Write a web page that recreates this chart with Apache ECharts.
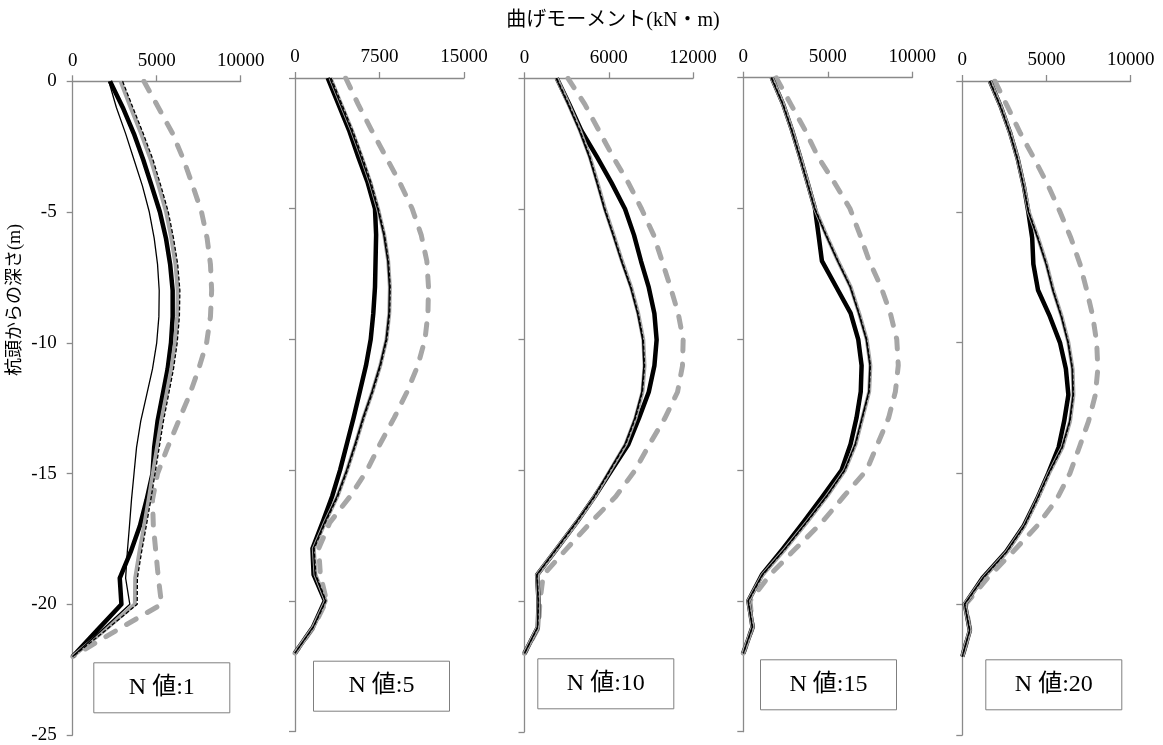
<!DOCTYPE html>
<html><head><meta charset="utf-8">
<script src="https://cdn.jsdelivr.net/npm/echarts@6/dist/echarts.min.js"></script>
<style>html,body{margin:0;padding:0;background:#fff}#c{width:1163px;height:745px}</style>
</head><body><div id="c"></div>
<script>
// depth (m) for every data point
const depth = [0,-1,-2,-3,-4,-5,-6,-7,-8,-9,-10,-11,-12,-13,-14,-15,-16,-17,-18,-19,-20,-21,-22];
const yTicks = [0,-5,-10,-15,-20,-25];
const panelLabels = ['N 値:1','N 値:5','N 値:10','N 値:15','N 値:20'];
const xMax = [10000,15000,12000,10000,10000];
const xStep = [5000,7500,6000,5000,5000];
const xTitle = '曲げモーメント(kN・m)';
const yTitle = '杭頭からの深さ(m)';

// N=1
const n1Thick = [2220,2980,3640,4200,4700,5190,5550,5800,5950,5950,5850,5650,5350,5050,4850,4750,4400,4000,3450,2800,2900,1450,0];
const n1Thin  = [2150,2600,3150,3650,4150,4560,4850,5050,5150,5130,5000,4750,4400,4050,3800,3650,3500,3380,3250,3150,3400,1700,0];
const n1Gray  = [2850,3450,4070,4650,5120,5560,5870,6120,6250,6220,6090,5870,5570,5270,5020,4770,4520,4250,3970,3720,3700,1880,0];
const n1Dot   = [2970,3580,4200,4780,5250,5690,6000,6250,6380,6350,6220,6000,5700,5400,5150,4900,4650,4380,4100,3850,3840,1950,0];
const n1Dash  = [4240,5100,5950,6600,7150,7670,8000,8200,8270,8200,7970,7500,6950,6300,5650,5050,4750,4800,4950,5100,5290,2600,0];
// N=5
const n5Thick = [2900,3850,4800,5600,6450,7100,7200,7150,7100,6950,6720,6300,5750,5200,4600,4000,3300,2450,1550,1650,2650,1600,0];
const n5Thin  = [3100,4050,5000,5850,6650,7330,7880,8230,8380,8330,8080,7530,6830,6030,5330,4580,3730,2630,1630,1780,2700,1620,0];
const n5Gray  = [3150,4100,5050,5900,6700,7370,7920,8270,8420,8370,8120,7570,6870,6070,5370,4620,3770,2670,1670,1820,2730,1640,0];
const n5Dot   = [3200,4150,5100,5950,6750,7400,7950,8300,8450,8400,8150,7600,6900,6100,5400,4650,3800,2700,1700,1850,2750,1650,0];
const n5Dash  = [4500,5600,6800,8050,9300,10400,11200,11700,11850,11800,11540,10900,9950,8800,7550,6400,4900,3100,2100,2250,2800,1650,0];
// N=10
const n10Thick = [2300,3200,4050,5150,6200,7160,7800,8300,8850,9250,9410,9250,8850,8150,7400,6200,5000,3700,2300,900,1000,950,0];
const n10Thin  = [2250,3100,3900,4600,5150,5680,6300,6900,7550,8050,8410,8500,8350,7850,7150,6050,4950,3650,2250,870,970,920,0];
const n10Gray  = [2300,3150,3950,4650,5200,5730,6350,6950,7600,8100,8460,8550,8400,7900,7200,6100,5000,3700,2300,900,1000,950,0];
const n10Dot   = [2300,3150,3950,4650,5200,5730,6350,6950,7600,8100,8460,8550,8400,7900,7200,6100,5000,3700,2300,900,1000,950,0];
const n10Dash  = [3100,4300,5300,6300,7400,8340,9200,9800,10400,10950,11300,11250,10900,10000,8900,7870,6500,4700,3000,1340,1100,1000,0];
// N=15
const n15Thick = [1680,2350,2880,3350,3800,4240,4450,4650,5500,6350,6800,7000,6950,6700,6350,5820,4700,3550,2350,1100,300,550,0];
const n15Thin  = [1650,2320,2850,3320,3770,4210,4870,5570,6320,6820,7270,7490,7420,7020,6620,5990,4920,3720,2470,1120,280,530,0];
const n15Gray  = [1680,2350,2880,3350,3800,4240,4900,5600,6350,6850,7300,7520,7450,7050,6650,6020,4950,3750,2500,1150,300,550,0];
const n15Dot   = [1680,2350,2880,3350,3800,4240,4900,5600,6350,6850,7300,7520,7450,7050,6650,6020,4950,3750,2500,1150,300,550,0];
const n15Dash  = [1950,2800,3650,4400,5380,6310,6900,7450,8150,8700,9080,9170,9000,8600,7950,7300,5950,4650,3100,1580,400,550,0];
// N=20
const n20Thick = [1640,2300,2850,3300,3650,3920,4150,4220,4500,5200,5800,6150,6300,6050,5720,5100,4420,3650,2600,1200,150,450,0];
const n20Thin  = [1610,2270,2820,3270,3620,3920,4470,4970,5370,5870,6270,6520,6570,6370,5920,5120,4420,3670,2620,1220,130,430,0];
const n20Gray  = [1640,2300,2850,3300,3650,3950,4500,5000,5400,5900,6300,6550,6600,6400,5950,5150,4450,3700,2650,1250,150,450,0];
const n20Dot   = [1640,2300,2850,3300,3650,3950,4500,5000,5400,5900,6300,6550,6600,6400,5950,5150,4450,3700,2650,1250,150,450,0];
const n20Dash  = [1940,2700,3450,4300,5100,5800,6450,6990,7390,7750,7980,8050,7900,7500,6950,6390,5600,4450,3000,1500,200,450,0];

// drawing order: dashed gray, thick black, gray solid, thin black, dotted black
const panels = [
  [n1Dash,n1Thick,n1Gray,n1Thin,n1Dot],
  [n5Dash,n5Thick,n5Gray,n5Thin,n5Dot],
  [n10Dash,n10Thick,n10Gray,n10Thin,n10Dot],
  [n15Dash,n15Thick,n15Gray,n15Thin,n15Dot],
  [n20Dash,n20Thick,n20Gray,n20Thin,n20Dot]
];

// ---- presentation ----
const FONT = '"Liberation Serif","Noto Sans CJK JP",serif';
const AX = '#8a8a8a';
const gridBox = [
  {left:72.7, top:81.3, width:168, height:653.7},
  {left:295, top:78, width:169, height:653.5},
  {left:524.5, top:78.3, width:168.5, height:653.5},
  {left:743.3, top:77.7, width:169, height:654},
  {left:962.3, top:81, width:168.4, height:654}
];
const boxPos = [
  {x:93.3, y:662.3}, {x:313, y:660.7}, {x:537.3, y:658.3}, {x:760, y:659.3}, {x:985.3, y:659.3}
];
const lineStyles = [
  {color:'#a6a6a6', width:5, type:[11,13], cap:'round', join:'round'},
  {color:'#000', width:4.5, join:'round'},
  {color:'#a6a6a6', width:4, join:'round'},
  {color:'#000', width:1.3, join:'round'},
  {color:'#000', width:1.3, type:[4,2]}
];

const grid=[], xAxis=[], yAxis=[], series=[], graphic=[];
panels.forEach((arrs,i)=>{
  grid.push(Object.assign({containLabel:false}, gridBox[i]));
  xAxis.push({type:'value', gridIndex:i, position:'top', min:0, max:xMax[i], interval:xStep[i],
    axisLine:{show:true, onZero:false, lineStyle:{color:AX, width:1.3}},
    axisTick:{show:true, inside:false, length:6, lineStyle:{color:AX, width:1.3}},
    axisLabel:{show:true, margin:11, fontFamily:FONT, fontSize:19, color:'#000', formatter:v=>String(v)},
    splitLine:{show:false}});
  yAxis.push({type:'value', gridIndex:i, min:-25, max:0, interval:5,
    axisLine:{show:true, onZero:false, lineStyle:{color:AX, width:1.3}},
    axisTick:{show:true, inside:false, length:6, lineStyle:{color:AX, width:1.3}},
    axisLabel:{show:i===0, margin:16, fontFamily:FONT, fontSize:19, color:'#000', formatter:v=>String(v)},
    splitLine:{show:false}});
  arrs.forEach((arr,k)=>{
    series.push({type:'line', xAxisIndex:i, yAxisIndex:i, showSymbol:false, symbol:'none',
      data: depth.map((d,j)=>[arr[j], d]), lineStyle:lineStyles[k], z:2+k, animation:false, silent:true});
  });
  graphic.push({type:'group', left:boxPos[i].x, top:boxPos[i].y, children:[
    {type:'rect', shape:{x:0,y:0,width:136,height:50}, style:{fill:'#fff', stroke:'#7f7f7f', lineWidth:1}},
    {type:'text', x:68, y:25, style:{text:panelLabels[i], font:'24px '+FONT, fill:'#000', align:'center', verticalAlign:'middle'}}
  ], z:100});
});
graphic.push({type:'text', x:613, y:21, style:{text:xTitle, font:'20px '+FONT, fill:'#000', align:'center', verticalAlign:'middle'}});
graphic.push({type:'text', x:15, y:300, rotation:Math.PI/2, style:{text:yTitle, font:'18px '+FONT, fill:'#000', align:'center', verticalAlign:'middle'}});

const chart = echarts.init(document.getElementById('c'), null, {renderer:'canvas'});
chart.setOption({animation:false, backgroundColor:'#fff', grid, xAxis, yAxis, series, graphic});
</script></body></html>
